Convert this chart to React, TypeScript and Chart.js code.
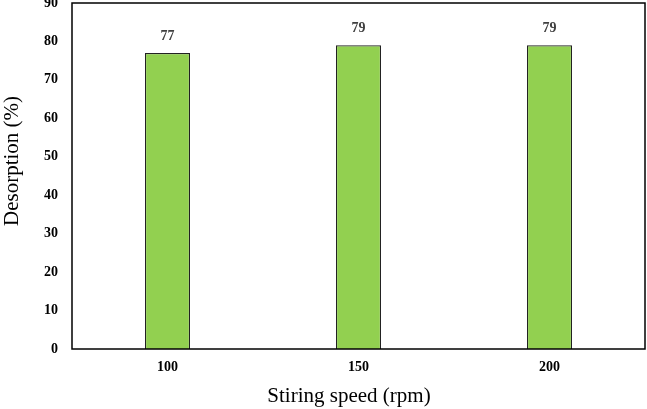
import React, { useEffect, useRef } from "react";
import { Chart, registerables } from "chart.js";

Chart.register(...registerables);

const categories = ["100", "150", "200"];
const desorption = [77, 79, 79];
const yTicks = [0, 10, 20, 30, 40, 50, 60, 70, 80, 90];
const xTitle = "Stiring speed (rpm)";
const yTitle = "Desorption (%)";

const SERIF = '"Liberation Serif", "Times New Roman", serif';

const overlayPlugin = {
  id: "overlay",
  afterDatasetsDraw(chart: any) {
    const { ctx, chartArea } = chart;
    const meta = chart.getDatasetMeta(0);
    ctx.save();
    ctx.font = `bold 14px ${SERIF}`;
    ctx.fillStyle = "#404040";
    ctx.textAlign = "center";
    ctx.textBaseline = "middle";
    meta.data.forEach((bar: any, i: number) => {
      ctx.fillText(String(desorption[i]), bar.x, bar.y - 17);
    });
    ctx.strokeStyle = "#000";
    ctx.lineWidth = 1.5;
    ctx.strokeRect(
      chartArea.left,
      chartArea.top,
      chartArea.right - chartArea.left,
      chartArea.bottom - chartArea.top
    );
    ctx.fillStyle = "#000";
    ctx.font = `21px ${SERIF}`;
    ctx.textAlign = "center";
    ctx.textBaseline = "middle";
    ctx.fillText(xTitle, 349, 396);
    ctx.translate(12, 161);
    ctx.rotate(-Math.PI / 2);
    ctx.fillText(yTitle, 0, 0);
    ctx.restore();
  },
};

export default function App() {
  const ref = useRef<HTMLCanvasElement>(null);
  useEffect(() => {
    document.body.style.margin = "0";
    const chart = new Chart(ref.current!, {
      type: "bar",
      data: {
        labels: categories,
        datasets: [
          {
            data: desorption,
            backgroundColor: "#92d050",
            borderColor: "#222222",
            borderWidth: 1.2,
            categoryPercentage: 1,
            barPercentage: 0.236,
          },
        ],
      },
      options: {
        animation: false,
        responsive: false,
        maintainAspectRatio: false,
        layout: { padding: { top: 3, right: 2, left: 0, bottom: 0 } },
        plugins: { legend: { display: false }, tooltip: { enabled: false } },
        scales: {
          x: {
            grid: { display: false, drawTicks: false },
            border: { display: false },
            ticks: {
              padding: 10,
              color: "#000",
              font: { family: SERIF, size: 14, weight: "bold" },
            },
            afterFit(scale: any) {
              scale.height = 60;
              scale.paddingLeft = 0;
              scale.paddingRight = 0;
              scale.paddingTop = 0;
              scale.paddingBottom = 0;
            },
          },
          y: {
            min: 0,
            max: 90,
            afterBuildTicks(scale: any) {
              scale.ticks = yTicks.map((v) => ({ value: v }));
            },
            grid: { display: false, drawTicks: false },
            border: { display: false },
            ticks: {
              padding: 14,
              color: "#000",
              font: { family: SERIF, size: 14, weight: "bold" },
            },
            afterFit(scale: any) {
              scale.width = 72;
              scale.paddingLeft = 0;
              scale.paddingRight = 0;
              scale.paddingTop = 0;
              scale.paddingBottom = 0;
            },
          },
        },
      },
      plugins: [overlayPlugin],
    } as any);
    return () => chart.destroy();
  }, []);
  return (
    <div style={{ width: 647, height: 409 }}>
      <canvas ref={ref} width={647} height={409} />
    </div>
  );
}
